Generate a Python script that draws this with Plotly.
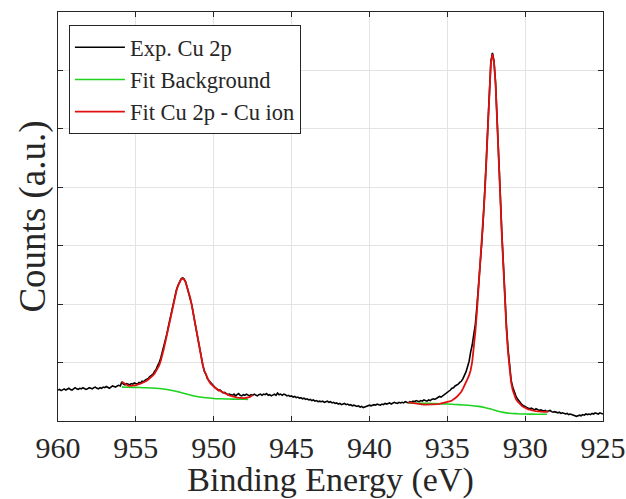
import plotly.graph_objects as go

# ---------------- data ----------------
# Experimental Cu 2p spectrum, 0.1 eV steps from 960.0 eV down to 925.0 eV
exp_start_ev = 960.0
exp_step_ev = 0.1
exp_counts = [
    # 960.0 .. 959.1
    0.53, 0.54, 0.52, 0.54, 0.55, 0.53, 0.54, 0.56, 0.54, 0.53,
    # 959
    0.55, 0.57, 0.55, 0.54, 0.56, 0.55, 0.57, 0.56, 0.54, 0.55,
    # 958
    0.57, 0.56, 0.55, 0.57, 0.58, 0.56, 0.55, 0.57, 0.56, 0.58,
    # 957
    0.57, 0.59, 0.58, 0.56, 0.58, 0.60, 0.59, 0.58, 0.60, 0.61,
    # 956
    0.60, 0.67, 0.63, 0.62, 0.64, 0.63, 0.62, 0.64, 0.63, 0.65,
    # 955
    0.64, 0.63, 0.66, 0.65, 0.68, 0.67, 0.70, 0.71, 0.73, 0.76,
    # 954
    0.78, 0.80, 0.85, 0.88, 0.95, 1.00, 1.08, 1.18, 1.27, 1.37,
    # 953
    1.50, 1.63, 1.76, 1.90, 2.02, 2.13, 2.24, 2.32, 2.39, 2.43,
    # 952
    2.45, 2.43, 2.38, 2.28, 2.21, 2.09, 1.98, 1.82, 1.70, 1.53,
    # 951
    1.39, 1.23, 1.06, 0.96, 0.85, 0.80, 0.72, 0.69, 0.66, 0.62,
    # 950
    0.60, 0.57, 0.55, 0.52, 0.53, 0.51, 0.48, 0.49, 0.47, 0.45,
    # 949
    0.46, 0.45, 0.44, 0.46, 0.43, 0.45, 0.47, 0.44, 0.43, 0.45,
    # 948
    0.44, 0.46, 0.44, 0.43, 0.45, 0.44, 0.46, 0.45, 0.43, 0.45,
    # 947
    0.46, 0.44, 0.46, 0.45, 0.47, 0.44, 0.45, 0.43, 0.45, 0.46,
    # 946
    0.44, 0.48, 0.45, 0.46, 0.44, 0.46, 0.45, 0.43, 0.44, 0.42,
    # 945
    0.43, 0.41, 0.42, 0.40, 0.41, 0.39, 0.40, 0.38, 0.39, 0.37,
    # 944
    0.38, 0.36, 0.37, 0.35, 0.36, 0.34, 0.35, 0.33, 0.34, 0.33,
    # 943
    0.34, 0.32, 0.33, 0.34, 0.32, 0.33, 0.31, 0.32, 0.30, 0.31,
    # 942
    0.29, 0.30, 0.28, 0.29, 0.30, 0.28, 0.29, 0.27, 0.28, 0.26,
    # 941
    0.27, 0.26, 0.25, 0.26, 0.24, 0.25, 0.23, 0.24, 0.25, 0.26,
    # 940
    0.27, 0.26, 0.27, 0.28, 0.27, 0.29, 0.28, 0.27, 0.29, 0.28,
    # 939
    0.30, 0.29, 0.30, 0.31, 0.29, 0.30, 0.32, 0.31, 0.30, 0.32,
    # 938
    0.31, 0.32, 0.31, 0.33, 0.32, 0.31, 0.33, 0.32, 0.34, 0.33,
    # 937
    0.35, 0.34, 0.33, 0.35, 0.34, 0.36, 0.35, 0.34, 0.36, 0.35,
    # 936
    0.37, 0.38, 0.37, 0.39, 0.40, 0.42, 0.41, 0.43, 0.45, 0.46,
    # 935
    0.48, 0.51, 0.53, 0.56, 0.57, 0.60, 0.61, 0.63, 0.66, 0.68,
    # 934
    0.72, 0.77, 0.84, 0.93, 1.02, 1.18, 1.30, 1.48, 1.65, 1.95,
    # 933
    2.26, 2.62, 3.00, 3.40, 3.86, 4.42, 5.03, 5.70, 6.15, 6.30,
    # 932
    6.16, 5.79, 5.24, 4.58, 3.90, 3.24, 2.62, 2.08, 1.62, 1.24,
    # 931
    0.92, 0.70, 0.58, 0.49, 0.43, 0.38, 0.34, 0.30, 0.28, 0.26,
    # 930
    0.24, 0.23, 0.22, 0.21, 0.22, 0.20, 0.19, 0.21, 0.19, 0.18,
    # 929
    0.19, 0.18, 0.17, 0.18, 0.16, 0.17, 0.18, 0.16, 0.15, 0.16,
    # 928
    0.15, 0.14, 0.15, 0.13, 0.14, 0.13, 0.12, 0.13, 0.11, 0.12,
    # 927
    0.11, 0.10, 0.09, 0.08, 0.09, 0.10, 0.09, 0.11, 0.10, 0.12,
    # 926
    0.11, 0.12, 0.11, 0.13, 0.12, 0.14, 0.13, 0.12, 0.14, 0.13,
    # 925.0
    0.12,
]

# Fitted Cu 2p1/2 region (0.1 eV steps, 955.9 -> 947.5 eV)
fit1_start_ev = 955.9
fit1_counts = [
    0.67, 0.65, 0.63, 0.615, 0.605, 0.60, 0.60, 0.605, 0.61, 0.615,
    0.62, 0.63, 0.64, 0.65, 0.66, 0.675, 0.69, 0.71, 0.73, 0.75,
    0.78, 0.81, 0.85, 0.89, 0.95, 1.03, 1.12, 1.24, 1.36, 1.48,
    1.61, 1.75, 1.88, 2.01, 2.12, 2.22, 2.31, 2.38, 2.42,
    2.44,
    2.42, 2.37, 2.29, 2.20, 2.10, 1.97, 1.83, 1.69, 1.54, 1.38,
    1.22, 1.07, 0.95, 0.86, 0.79, 0.73, 0.68, 0.64, 0.61, 0.585,
    0.565, 0.545, 0.53, 0.515, 0.50, 0.485, 0.47, 0.46, 0.45, 0.44,
    0.435, 0.425, 0.42, 0.41, 0.40, 0.395, 0.39, 0.39, 0.39, 0.39,
    0.395, 0.40, 0.41, 0.425, 0.445,
]

# Fitted Cu 2p3/2 region (0.1 eV steps, 937.5 -> 928.5 eV)
fit2_start_ev = 937.5
fit2_counts = [
    0.32, 0.315, 0.31, 0.305, 0.30, 0.295, 0.29, 0.29, 0.285, 0.285,
    0.28, 0.28, 0.28, 0.28, 0.28, 0.28, 0.285, 0.285, 0.29, 0.29,
    0.295, 0.30, 0.305, 0.31, 0.315, 0.32, 0.33, 0.34, 0.35, 0.365,
    0.385, 0.41, 0.44, 0.47, 0.50, 0.55, 0.60, 0.66, 0.72, 0.78,
    0.87, 1.01, 1.23, 1.52, 1.86, 2.23, 2.60, 2.98, 3.38, 3.85,
    4.40, 5.02, 5.68, 6.13,
    6.28,
    6.14, 5.77, 5.22, 4.56, 3.86, 3.19, 2.57, 2.02, 1.57, 1.18,
    0.86, 0.66, 0.53, 0.44, 0.38, 0.34, 0.31, 0.28, 0.255, 0.24,
    0.225, 0.21, 0.20, 0.195, 0.185, 0.18, 0.175, 0.17, 0.165, 0.165,
    0.16, 0.16, 0.155, 0.155, 0.16, 0.165,
]

# Fitted Shirley-type backgrounds
bg1_ev = [955.9, 955.5, 955.0, 954.5, 954.0, 953.5, 953.0, 952.5, 952.0,
          951.5, 951.0, 950.5, 950.0, 949.5, 949.0, 948.5, 948.0, 947.8]
bg1_counts = [0.58, 0.578, 0.575, 0.57, 0.565, 0.555, 0.54, 0.515, 0.48,
              0.445, 0.415, 0.397, 0.386, 0.38, 0.376, 0.373, 0.371, 0.37]
bg2_ev = [937.5, 937.0, 936.5, 936.0, 935.5, 935.0, 934.5, 934.0, 933.5, 933.0,
          932.6, 932.2, 931.8, 931.4, 931.0, 930.5, 930.0, 929.5, 929.0, 928.6]
bg2_counts = [0.31, 0.307, 0.303, 0.30, 0.295, 0.29, 0.283, 0.275, 0.265, 0.25,
              0.232, 0.205, 0.172, 0.147, 0.132, 0.124, 0.119, 0.117, 0.115, 0.115]

x_ticks = [960, 955, 950, 945, 940, 935, 930, 925]
y_ticks = [1, 2, 3, 4, 5, 6]

# ---------------- build ----------------
def grid(start, n, step=0.1):
    return [round(start - step * i, 2) for i in range(n)]

exp_ev = grid(exp_start_ev, len(exp_counts), exp_step_ev)
fit1_ev = grid(fit1_start_ev, len(fit1_counts))
fit2_ev = grid(fit2_start_ev, len(fit2_counts))

FONT = "Liberation Serif"
AX = "#262626"
GREEN = "#1ed21e"
RED = "#e01010"

fig = go.Figure()
fig.add_trace(go.Scatter(x=exp_ev, y=exp_counts, mode="lines", name="Exp. Cu 2p",
                         line=dict(color="black", width=1.6)))
fig.add_trace(go.Scatter(x=bg1_ev + [None] + bg2_ev, y=bg1_counts + [None] + bg2_counts,
                         mode="lines", name="Fit Background", connectgaps=False,
                         line=dict(color=GREEN, width=1.6, shape="spline")))
fig.add_trace(go.Scatter(x=fit1_ev + [None] + fit2_ev, y=fit1_counts + [None] + fit2_counts,
                         mode="lines", name="Fit Cu 2p - Cu ion", connectgaps=False,
                         line=dict(color=RED, width=1.8)))

fig.update_layout(
    width=626, height=499,
    margin=dict(l=58, r=23, t=12, b=78, autoexpand=False),
    paper_bgcolor="white", plot_bgcolor="white",
    font=dict(family=FONT, color=AX),
    showlegend=True,
    legend=dict(x=0.02, y=0.968, xanchor="left", yanchor="top",
                bgcolor="white", bordercolor=AX, borderwidth=1,
                font=dict(family=FONT, size=22.5, color=AX),
                tracegroupgap=0, itemwidth=50),
    xaxis=dict(range=[960, 925], tickmode="array", tickvals=x_ticks,
               ticktext=[str(t) for t in x_ticks], automargin=False,
               showline=True, linecolor=AX, linewidth=1, mirror="ticks",
               ticks="inside", ticklen=5, tickcolor=AX,
               showgrid=True, gridcolor="#e3e3e3", gridwidth=1, zeroline=False,
               tickfont=dict(family=FONT, size=30, color=AX),
               title=dict(text="Binding Energy (eV)", font=dict(family=FONT, size=34, color=AX),
                          standoff=7)),
    yaxis=dict(range=[0, 7], tickmode="array", tickvals=y_ticks, showticklabels=False,
               automargin=False,
               showline=True, linecolor=AX, linewidth=1, mirror="ticks",
               ticks="inside", ticklen=5, tickcolor=AX,
               showgrid=True, gridcolor="#e3e3e3", gridwidth=1, zeroline=False,
               title=dict(text="Counts (a.u.)", font=dict(family=FONT, size=37, color=AX),
                          standoff=0)),
)

fig.write_html("out.html", config={"displayModeBar": False},
               post_script="document.body.style.margin='0px';")
